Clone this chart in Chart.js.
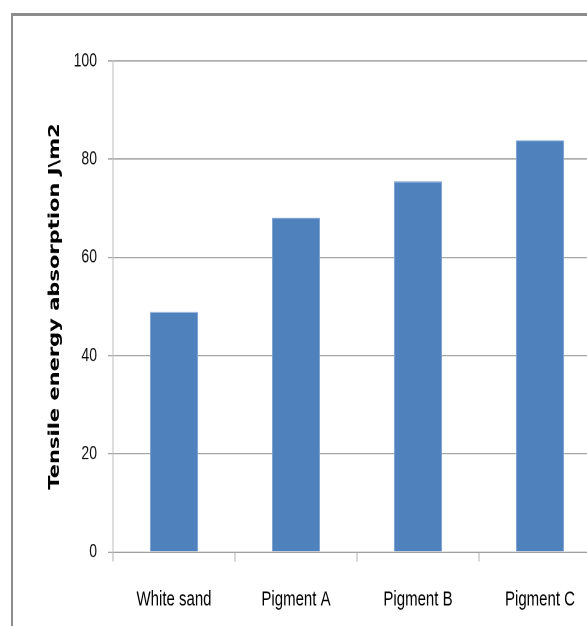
<!DOCTYPE html>
<html>
<head>
<meta charset="utf-8">
<script src="https://cdn.jsdelivr.net/npm/chart.js@4"></script>
<style>
  html, body { margin: 0; padding: 0; background: #fff; overflow: hidden; }
  body { width: 587px; height: 626px; position: relative; }
  /* outer chart frame, only top and left edges are in view */
  #frame {
    position: absolute; left: 11px; top: 13px; width: 700px; height: 700px;
    border-top: 3px solid #8c8c8c; border-left: 2px solid #8c8c8c;
  }
  /* chart is laid out short and stretched tall */
  #wrap {
    position: absolute; left: 0; top: 0; width: 605px; height: 447px;
    transform: scaleY(1.4); transform-origin: 0 0;
  }
</style>
</head>
<body>
<div id="frame"></div>
<div id="wrap"><canvas id="chart"></canvas></div>
<script>
// --- Data ---
const categories = ['White sand', 'Pigment A', 'Pigment B', 'Pigment C'];
const absorption = [48.9, 68.1, 75.5, 83.9];
const yTicks = [0, 20, 40, 60, 80, 100];
const yTitle = 'Tensile energy absorption J\\m2';

const ctx = document.getElementById('chart').getContext('2d');
window.barChart = new Chart(ctx, {
  type: 'bar',
  data: {
    labels: categories,
    datasets: [{
      data: absorption,
      backgroundColor: '#4f81bd',
      borderColor: '#8fb0d8',
      borderWidth: 0.7,
      categoryPercentage: 1,
      barPercentage: 0.395
    }]
  },
  options: {
    responsive: true,
    maintainAspectRatio: false,
    animation: false,
    devicePixelRatio: 2,
    layout: { padding: { top: 43.6, right: 4, left: 0, bottom: 0 } },
    plugins: { legend: { display: false }, tooltip: { enabled: false } },
    scales: {
      x: {
        offset: true,
        grid: { offset: true, drawOnChartArea: false, tickLength: 7, color: '#b0b0b0' },
        border: { color: '#a0a0a0', width: 1 },
        ticks: {
          color: '#000',
          font: { family: 'Liberation Sans', size: 15 },
          padding: 18,
          maxRotation: 0
        },
        afterFit: s => { s.height = 52.7; }
      },
      y: {
        min: 0,
        max: 100,
        afterBuildTicks: s => { s.ticks = yTicks.map(v => ({ value: v })); },
        grid: { color: '#a6a6a6', tickLength: 5 },
        border: { color: '#bfbfbf', width: 1 },
        ticks: {
          color: '#111',
          font: { family: 'Liberation Sans', size: 14 },
          padding: 11
        },
        title: {
          display: true,
          text: yTitle,
          color: '#000',
          font: { family: 'DejaVu Sans', weight: 'bold', size: 15 },
          padding: { top: 46, bottom: 0 }
        },
        afterFit: s => { s.width = 113; }
      }
    }
  }
});
</script>
</body>
</html>
